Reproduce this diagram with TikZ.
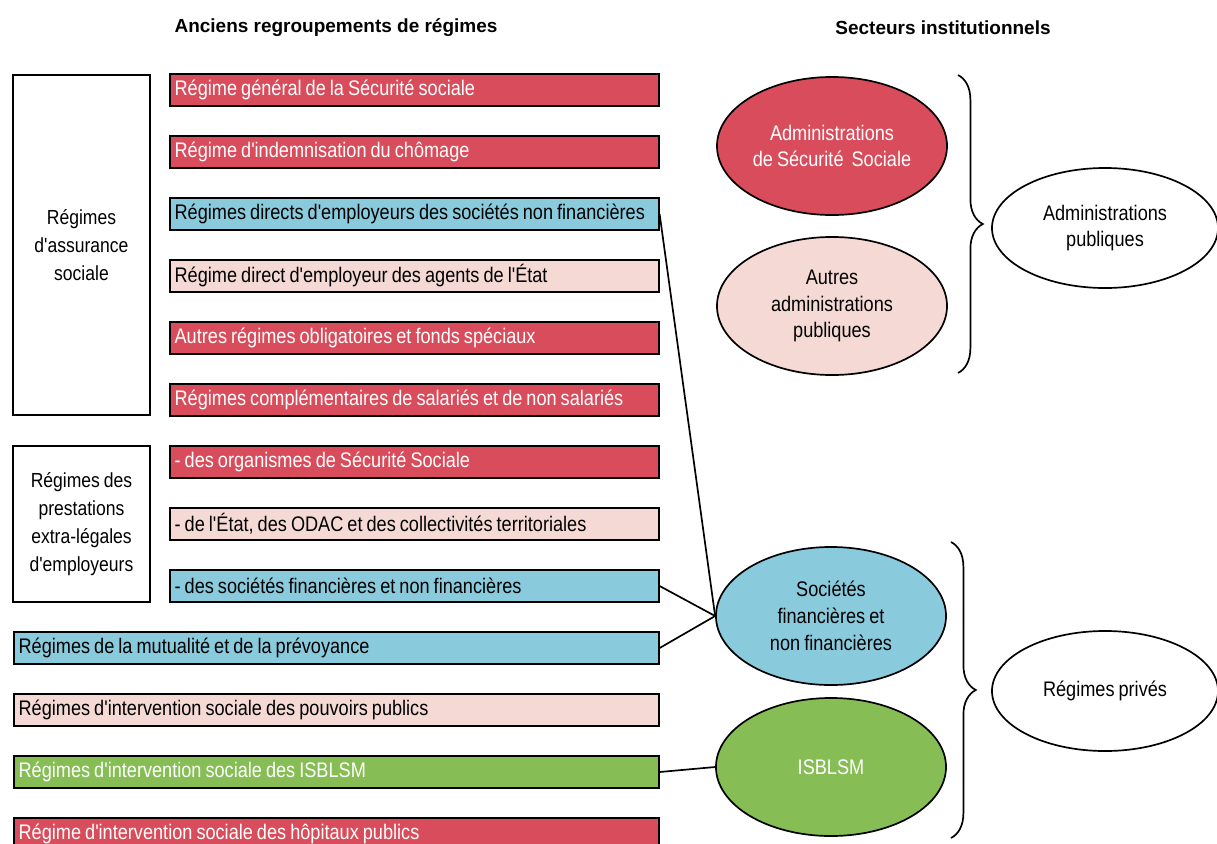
\documentclass[tikz,border=0pt]{standalone}
\usepackage{fontspec}
\setmainfont{Liberation Sans}[FakeStretch=0.86,WordSpace=0.8,Ligatures=TeXOff]
\newfontfamily\headfont{Liberation Sans}
\usetikzlibrary{shapes.geometric,decorations.pathreplacing}
\definecolor{rouge}{HTML}{D94C5B}
\definecolor{bleu}{HTML}{89CBDD}
\definecolor{rose}{HTML}{F5D9D4}
\definecolor{vert}{HTML}{86BD55}
\tikzset{
    bar/.style={draw,line width=1.2pt,anchor=west,minimum height=0.8cm,inner xsep=0.12cm,
        text width=11.98cm,align=flush left,font=\fontsize{15}{17}\selectfont},
    widebar/.style={bar,text width=15.88cm},
    groupbox/.style={draw,line width=1.2pt,minimum width=3.42cm,align=center,
        font=\fontsize{14.5}{19.8}\selectfont},
    sector/.style={ellipse,draw,line width=1.2pt,minimum width=5.75cm,minimum height=3.45cm,
        inner sep=0pt,align=center,font=\fontsize{15}{19}\selectfont},
    total/.style={sector,fill=white,minimum width=5.65cm,minimum height=3cm},
    link/.style={line width=1.2pt},
    accolade/.style={line width=1.2pt,decorate,decoration={brace,amplitude=0.62cm}},
    head/.style={font=\headfont\bfseries\fontsize{13.5}{16}\selectfont}
}
\begin{document}
\begin{tikzpicture}[x=0.025cm,y=-0.025cm]
    \useasboundingbox (0,0) rectangle (1217,843);
    %% titles
    \node[head] (t1) at (336,28) {Anciens regroupements de régimes};
    \node[head] (t2) at (943,28) {Secteurs institutionnels};
    %% old groupings
    \node[groupbox,minimum height=8.5cm] (g1) at (81.5,245) {Régimes\\d'assurance\\sociale};
    \node[groupbox,minimum height=3.9cm] (g2) at (81.5,524) {Régimes des\\prestations\\extra-légales\\d'employeurs};
    \node[bar,fill=rouge,text=white] (r1) at (169,90) {Régime général de la Sécurité sociale};
    \node[bar,fill=rouge,text=white] (r2) at (169,152) {Régime d'indemnisation du chômage};
    \node[bar,fill=bleu] (r3) at (169,214) {Régimes directs d'employeurs des sociétés non financières};
    \node[bar,fill=rose] (r4) at (169,276) {Régime direct d'employeur des agents de l'État};
    \node[bar,fill=rouge,text=white] (r5) at (169,338) {Autres régimes obligatoires et fonds spéciaux};
    \node[bar,fill=rouge,text=white] (r6) at (169,400) {Régimes complémentaires de salariés et de non salariés};
    \node[bar,fill=rouge,text=white] (r7) at (169,462) {- des organismes de Sécurité Sociale};
    \node[bar,fill=rose] (r8) at (169,524) {- de l'État, des ODAC et des collectivités territoriales};
    \node[bar,fill=bleu] (r9) at (169,586) {- des sociétés financières et non financières};
    \node[widebar,fill=bleu] (r10) at (13,648) {Régimes de la mutualité et de la prévoyance};
    \node[widebar,fill=rose] (r11) at (13,710) {Régimes d'intervention sociale des pouvoirs publics};
    \node[widebar,fill=vert,text=white] (r12) at (13,772) {Régimes d'intervention sociale des ISBLSM};
    \node[widebar,fill=rouge,text=white] (r13) at (13,834) {Régime d'intervention sociale des hôpitaux publics};
    %% institutional sectors
    \node[sector,fill=rouge,text=white] (asso) at (832,146) {Administrations\\de Sécurité~ Sociale};
    \node[sector,fill=rose] (apu) at (832,306) {Autres\\administrations\\publiques};
    \node[sector,fill=bleu] (soc) at (831,616) {Sociétés\\financières et\\non financières};
    \node[sector,fill=vert,text=white] (isb) at (831,767) {ISBLSM};
    \node[total] (pub) at (1105,228) {Administrations\\publiques};
    \node[total] (priv) at (1105,691) {Régimes privés};
    %% braces
    \coordinate (b1) at (958,75);
    \coordinate (b2) at (958,373);
    \coordinate (b3) at (951,542);
    \coordinate (b4) at (951,838);
    \draw[accolade] (b1) -- (b2);
    \draw[accolade] (b3) -- (b4);
    %% links
    \foreach \r in {r3,r9,r10}
        \draw[link] (\r.east) -- (soc.west);
    \draw[link] (r12.east) -- (isb.west);
\end{tikzpicture}
\end{document}
